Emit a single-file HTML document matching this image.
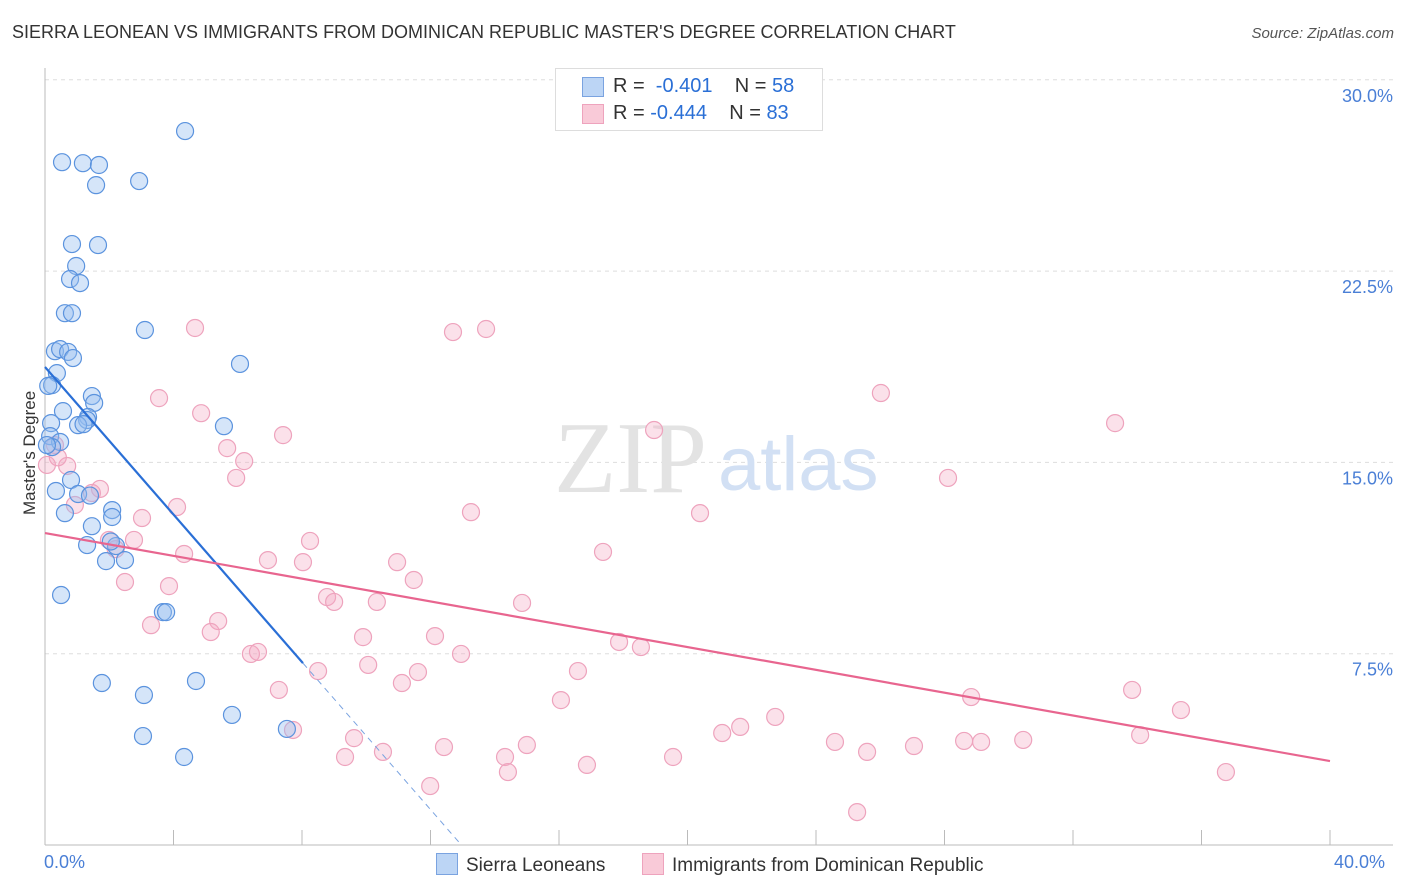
<!DOCTYPE html>
<html><head><meta charset="utf-8"><style>
body{margin:0;background:#fff;font-family:"Liberation Sans",sans-serif;}
#wrap{position:relative;width:1406px;height:892px;overflow:hidden;}
.t{position:absolute;white-space:nowrap;}
</style></head><body>
<div id="wrap">
<div class="t" style="left:12px;top:22px;font-size:18px;color:#333;">SIERRA LEONEAN VS IMMIGRANTS FROM DOMINICAN REPUBLIC MASTER'S DEGREE CORRELATION CHART</div>
<div class="t" style="right:12px;top:25px;font-size:15px;color:#555;font-style:italic;">Source: ZipAtlas.com</div>
<svg id="svg" width="1406" height="892" style="position:absolute;left:0;top:0"></svg>
</div>
<script>
const blueX=[4.36,0.53,1.18,1.68,1.59,2.93,0.84,1.65,0.97,0.78,1.09,0.62,0.84,3.11,0.31,0.47,0.72,0.87,6.07,0.37,0.22,1.46,1.53,0.56,1.34,1.31,1.03,0.19,5.57,0.16,0.47,0.22,0.81,0.34,1.03,0.62,2.09,2.09,1.46,1.31,2.21,2.49,1.90,0.50,3.67,3.77,1.77,3.08,4.70,5.82,3.05,7.53,4.33,0.06,1.20,0.10,2.05,1.40];
const blueY=[27.99,26.77,26.73,26.66,25.87,26.03,23.56,23.52,22.70,22.19,22.03,20.85,20.85,20.19,19.36,19.44,19.33,19.09,18.86,18.50,18.03,17.60,17.33,17.01,16.78,16.66,16.46,16.54,16.42,16.03,15.80,15.60,14.31,13.88,13.76,13.01,13.13,12.86,12.50,11.76,11.72,11.17,11.13,9.80,9.13,9.13,6.35,5.88,6.43,5.10,4.27,4.55,3.45,15.68,16.50,18.00,11.90,13.70];
const pinkX=[4.67,12.70,13.73,3.55,4.86,26.02,33.31,18.96,7.41,5.67,6.20,5.95,28.11,0.69,0.31,1.71,1.46,0.93,4.11,13.26,20.39,3.02,8.25,2.77,1.99,4.33,6.94,8.03,10.96,17.37,11.48,2.49,3.86,8.78,9.00,10.33,14.85,5.39,3.30,5.16,9.90,12.14,17.87,18.55,6.41,6.63,12.95,10.06,8.50,16.59,11.61,11.11,7.28,33.84,28.83,16.06,22.73,35.36,21.64,21.08,7.72,34.09,9.62,30.45,28.61,29.14,24.59,15.00,12.42,10.52,25.59,27.05,9.34,14.32,19.55,16.87,14.41,36.76,11.99,25.28,0.06,0.40,2.20];
const pinkY=[20.27,20.11,20.23,17.52,16.93,17.72,16.54,16.27,16.07,15.56,15.05,14.39,14.39,14.86,15.68,13.96,13.80,13.33,13.25,13.05,13.01,12.82,11.92,11.96,11.96,11.41,11.17,11.09,11.09,11.49,10.39,10.31,10.15,9.72,9.53,9.53,9.49,8.78,8.62,8.35,8.15,8.19,7.96,7.76,7.49,7.57,7.49,7.06,6.82,6.82,6.78,6.35,6.08,6.08,5.80,5.68,5.02,5.29,4.63,4.39,4.51,4.31,4.19,4.12,4.08,4.04,4.04,3.92,3.84,3.65,3.65,3.88,3.45,3.45,3.45,3.14,2.86,2.86,2.31,1.29,14.90,15.20,11.60];
const yTicks=[7.5,15,22.5,30];
const xTickVals=[0,4,8,12,16,20,24,28,32,36,40];
const blueTrend=[18.74,7.13,0,8.03];
const pinkTrend=[12.23,3.29];
const X=v=>45+v/40*1285, Y=v=>845-v/7.5*191.3;
const s=document.getElementById('svg');const NS='http://www.w3.org/2000/svg';
function mk(t,a){const e=document.createElementNS(NS,t);for(const k in a)e.setAttribute(k,a[k]);s.appendChild(e);return e;}
yTicks.forEach(v=>{
 const g=mk('line',{x1:45,x2:1393,y1:Y(v),y2:Y(v),stroke:'#ddd','stroke-dasharray':'4,4'});
 
 
 const t=mk('text',{x:1393,y:Y(v)+22,'text-anchor':'end','font-size':18,fill:'#4a7fd6','font-family':'Liberation Sans'});t.textContent=v.toFixed(1)+'%';
 
 
});
mk('line',{x1:45,x2:45,y1:68,y2:845,stroke:'#bbb'});
mk('line',{x1:45,x2:1393,y1:845,y2:845,stroke:'#bbb'});
xTickVals.forEach(v=>{const l=mk('line',{x1:X(v),x2:X(v),y1:830,y2:845,stroke:'#bbb'});
 
 });
const w1=mk('text',{x:554,y:492,'font-size':102,fill:'#e3e3e3','font-family':'Liberation Serif'});w1.textContent='ZIP';


const w2=mk('text',{x:718,y:490,'font-size':76,fill:'#d2e0f4','font-family':'Liberation Sans'});w2.textContent='atlas';


pinkX.forEach((v,i)=>{const c=mk('circle',{cx:X(v),cy:Y(pinkY[i]),r:8.5,fill:'rgba(244,170,195,0.35)',stroke:'#eea3bd','stroke-width':1.2});
 
 });
blueX.forEach((v,i)=>{const c=mk('circle',{cx:X(v),cy:Y(blueY[i]),r:8.5,fill:'rgba(150,190,240,0.4)',stroke:'#5b93de','stroke-width':1.2});
 
 });
const sl=(blueTrend[1]-blueTrend[0])/(blueTrend[3]-blueTrend[2]);
const xe=-blueTrend[0]/sl;
const b1=mk('line',{x1:X(0),y1:Y(blueTrend[0]),x2:X(blueTrend[3]),y2:Y(blueTrend[1]),stroke:'#2a6fd6','stroke-width':2.2});


const b2=mk('line',{x1:X(blueTrend[3]),y1:Y(blueTrend[1]),x2:X(xe),y2:Y(0),stroke:'#7aa3e0','stroke-width':1,'stroke-dasharray':'6,5'});


const p1=mk('line',{x1:X(0),y1:Y(pinkTrend[0]),x2:X(40),y2:Y(pinkTrend[1]),stroke:'#e8658f','stroke-width':2.2});


</script>
<div class="t" style="left:44px;top:852px;font-size:18px;color:#4a7fd6;">0.0%</div>
<div class="t" style="left:1334px;top:852px;font-size:18px;color:#4a7fd6;">40.0%</div>
<div class="t" style="left:-30px;top:445px;font-size:17px;color:#333;transform:rotate(-90deg);transform-origin:center;width:120px;text-align:center;">Master's Degree</div>
<div style="position:absolute;left:555px;top:68px;width:266px;height:61px;border:1px solid #ddd;background:#fff;font-size:20px;">
 <div style="position:absolute;left:26px;top:8px;width:20px;height:18px;background:#bcd5f5;border:1px solid #7aa3e0"></div>
 <div class="t" style="left:57px;top:6px;color:#333">R = <span style="color:#2a6fd6">&nbsp;-0.401</span>&nbsp;&nbsp;&nbsp; N = <span style="color:#2a6fd6">58</span></div>
 <div style="position:absolute;left:26px;top:35px;width:20px;height:18px;background:#f9cad8;border:1px solid #eea3bd"></div>
 <div class="t" style="left:57px;top:33px;color:#333">R = <span style="color:#2a6fd6">-0.444</span>&nbsp;&nbsp;&nbsp; N = <span style="color:#2a6fd6">83</span></div>
</div>
<div style="position:absolute;left:436px;top:853px;font-size:19px;color:#333;">
 <span style="display:inline-block;width:20px;height:20px;background:#bcd5f5;border:1px solid #7aa3e0;vertical-align:-4px;margin-right:8px"></span>Sierra Leoneans</div>
<div style="position:absolute;left:642px;top:853px;font-size:19px;color:#333;">
 <span style="display:inline-block;width:20px;height:20px;background:#f9cad8;border:1px solid #eea3bd;vertical-align:-4px;margin-right:8px"></span>Immigrants from Dominican Republic</div>
</body></html>
